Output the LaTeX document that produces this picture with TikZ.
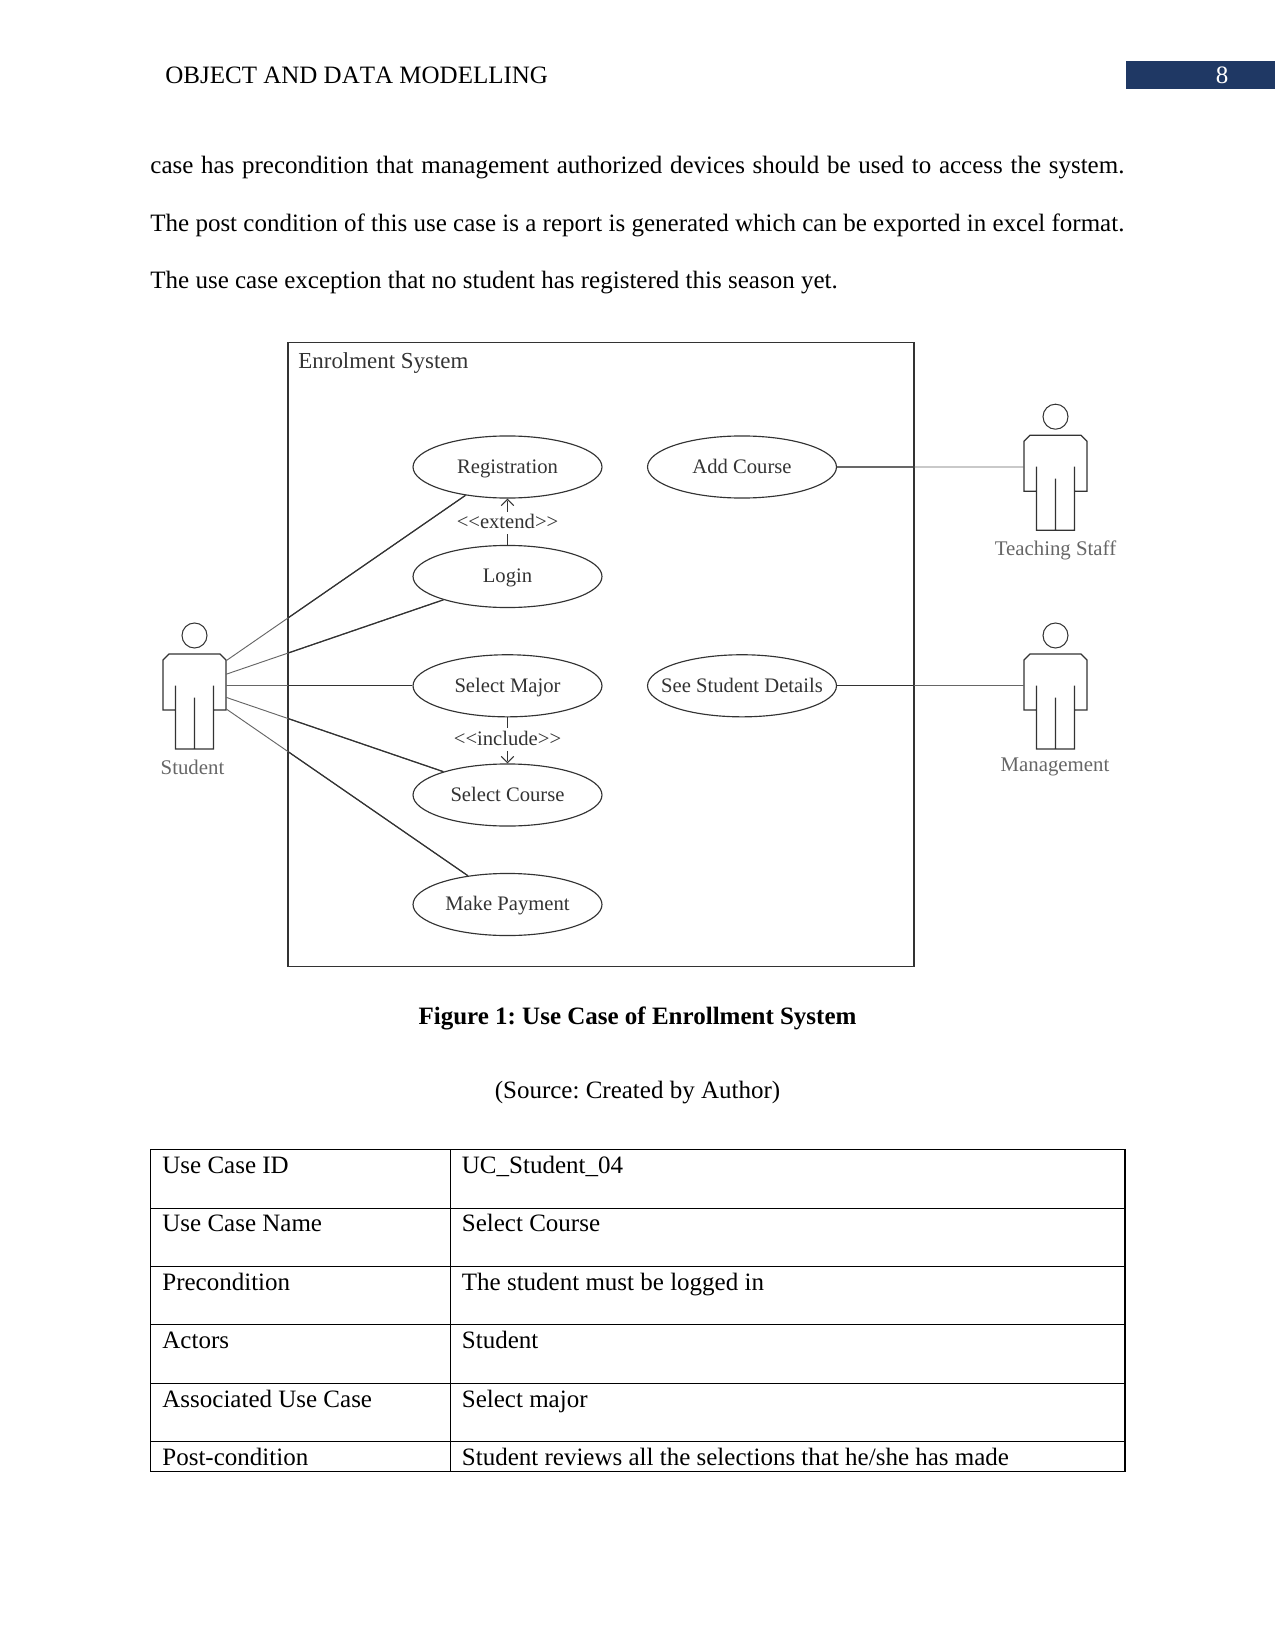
\documentclass[tikz,border=0pt]{standalone}
\usepackage{fontspec}
\setmainfont{Liberation Serif}
\usetikzlibrary{shapes.geometric,arrows.meta}
\definecolor{barblue}{HTML}{1F3864}
\definecolor{umlink}{HTML}{333333}
\definecolor{umlgray}{HTML}{666666}
\tikzset{
	usecase/.style={ellipse,draw=umlink,line width=0.55pt,inner sep=0pt,minimum width=90.7pt,minimum height=29.8pt,text=umlink,text height=7.8pt,text depth=1.7pt,font=\fontsize{9.9}{12}\selectfont},
	actorlabel/.style={text=umlgray,inner sep=0pt,font=\fontsize{10}{12}\selectfont},
	assocout/.style={draw=umlgray,line width=0.45pt},
	associn/.style={draw=umlink,line width=0.6pt},
	depend/.style={draw=umlink,line width=0.5pt,dash pattern=on 5pt off 3pt,-{Straight Barb[length=3pt,width=6pt]}},
	deplabel/.style={fill=white,text=umlink,inner sep=1pt,font=\fontsize{9.9}{12}\selectfont},
	bodytext/.style={inner sep=0pt,font=\fontsize{12}{27.6}\selectfont\frenchspacing},
	actor/.pic={
		\draw[umlink,line width=0.5pt] (0,0) circle (12.5);
		\draw[umlink,line width=0.6pt] (-19,74.5) -- (-31.5,74.5) -- (-31.5,24.5) -- (-25.5,18.5) -- (25.5,18.5) -- (31.5,24.5) -- (31.5,74.5) -- (19,74.5)
		(-19,50) -- (-19,113.5) -- (19,113.5) -- (19,50)
		(0,62) -- (0,113.5);
		\coordinate (-west) at (-31.5,50.3);
		\coordinate (-p1) at (31.5,25.3);
		\coordinate (-p2) at (31.5,38.8);
		\coordinate (-p3) at (31.5,50.3);
		\coordinate (-p4) at (31.5,61.8);
		\coordinate (-p5) at (31.5,73.3);
	}
}
\begin{document}
\begin{tikzpicture}[x=0.48pt,y=-0.48pt]
	\useasboundingbox (0,0) rectangle (1275,1650);
	% Page header
	\fill[barblue] (1126,61) rectangle (1275,89);
	\node[bodytext,anchor=base west] (header) at (165,84) {\addfontfeature{Kerning=Off}OBJECT AND DATA MODELLING};
	\node[bodytext,anchor=base,text=white] (pageno) at (1222,84) {8};
	% Paragraph
	\node[bodytext,anchor=north west,text width=467.5pt,align=justify] (para) at (150,156) {
		case has precondition that management authorized devices should be used to access the system.\linebreak
		The post condition of this use case is a report is generated which can be exported in excel format.\linebreak
		The use case exception that no student has registered this season yet.};
	% System frame
	\coordinate (framenw) at (288,342.5);
	\coordinate (framese) at (914,966.5);
	\draw[umlink,line width=0.55pt] (framenw) rectangle (framese);
	\node[anchor=base west,inner sep=0pt,text=umlink,font=\fontsize{11}{13}\selectfont] (system) at (298,368.5) {Enrolment System};
	% Use cases
	\node[usecase] (reg) at (507.5,467) {Registration};
	\node[usecase] (login) at (507.5,576.5) {Login};
	\node[usecase] (major) at (507.5,685.8) {Select Major};
	\node[usecase] (course) at (507.5,795) {Select Course};
	\node[usecase] (payment) at (507.5,904.5) {Make Payment};
	\node[usecase] (addcourse) at (742,467) {Add Course};
	\node[usecase] (details) at (742,685.8) {\makebox[0pt]{See Student Details}};
	% Actors
	\pic (student) at (194.5,635.5) {actor};
	\pic (staff) at (1055.5,416.7) {actor};
	\pic (manager) at (1055.5,635.5) {actor};
	\node[actorlabel] (studentname) at (192.5,767) {Student};
	\node[actorlabel] (staffname) at (1055.5,550) {Teaching Staff};
	\node[actorlabel] (managername) at (1055,767) {Management};
	% Associations, darker inside the frame
	\foreach \a/\b in {student-p1/reg.214,student-p2/login.200,student-p3/major.west,student-p4/course.160,student-p5/payment.144,addcourse.east/staff-west,details.east/manager-west}{
		\draw[assocout] (\a) -- (\b);
		\begin{scope}
			\clip (framenw) rectangle (framese);
			\draw[associn] (\a) -- (\b);
		\end{scope}
	}
	% Extend and include
	\draw[depend] (login) -- node[deplabel] (extendlabel) {{<}{<}extend{>}{>}} (reg);
	\draw[depend] (major) -- node[deplabel,yshift=1pt] (includelabel) {{<}{<}include{>}{>}} (course);
	% Caption
	\node[bodytext,anchor=base] (caption) at (637.5,1024) {\textbf{Figure 1: Use Case of Enrollment System}};
	\node[bodytext,anchor=base] (source) at (637.5,1098) {(Source: Created by Author)};
	% Table
	\draw[black,line width=0.6pt] (150.5,1149.5) rectangle (1125,1471.5);
	\draw[black,line width=0.8pt] (450.5,1149.5) -- (450.5,1471.5);
	\foreach \yy in {1208.3,1266.3,1324.3,1383.3,1441.7}
		\draw[black,line width=0.5pt] (150.5,\yy) -- (1125,\yy);
	\foreach \yy/\lab/\val [count=\i] in {1173.3/{Use Case ID}/{UC\_Student\_04},1231/{Use Case Name}/{Select Course},1290/{Precondition}/{The student must be logged in},1348/{Actors}/{Student},1407.5/{Associated Use Case}/{Select major},1465/{Post-condition}/{Student reviews all the selections that he/she has made}}{
		\node[bodytext,anchor=base west] (lab\i) at (162,\yy) {\lab};
		\node[bodytext,anchor=base west] (val\i) at (461.5,\yy) {\val};
	}
\end{tikzpicture}
\end{document}
